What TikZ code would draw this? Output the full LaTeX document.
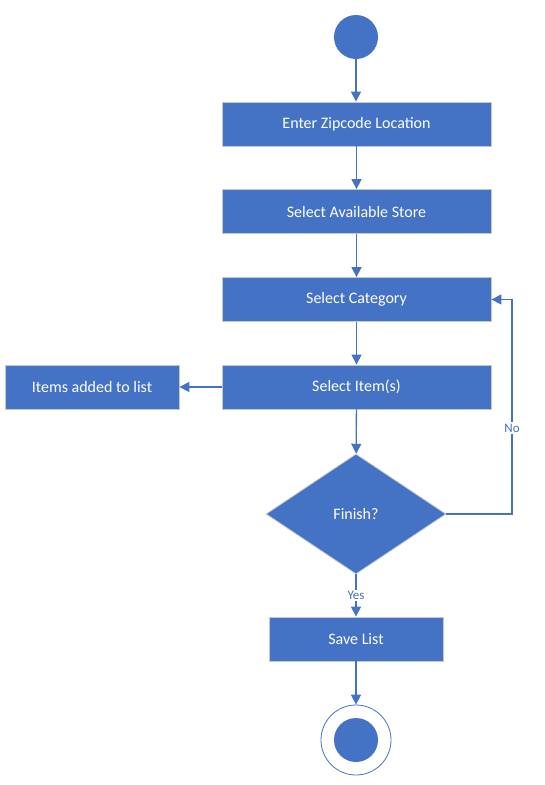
\documentclass[tikz,border=0pt]{standalone}
\usepackage{fontspec}
\setmainfont{Carlito}
\usetikzlibrary{shapes.geometric,arrows.meta,positioning}
\definecolor{flowblue}{HTML}{4472C4}
\definecolor{edgegrey}{HTML}{C3C9D4}

\begin{document}
\begin{tikzpicture}[x=1pt,y=-1pt,
  box/.style={rectangle,draw=edgegrey,fill=flowblue,text=white,line width=0.8pt,
    minimum height=44pt,inner sep=0pt,font=\fontsize{16}{19}\selectfont},
  decision/.style={diamond,draw=edgegrey,fill=flowblue,text=white,line width=0.8pt,
    minimum width=180pt,minimum height=120pt,inner sep=0pt,font=\fontsize{16}{19}\selectfont},
  startnode/.style={circle,fill=flowblue,minimum size=44pt,inner sep=0pt},
  endnode/.style={circle,draw=flowblue,fill=white,line width=0.8pt,minimum size=70pt,inner sep=0pt},
  flow/.style={draw=flowblue,line width=1.3pt,-{Triangle[length=10pt,width=10pt]}},
  lbl/.style={fill=white,text=flowblue,inner sep=1.5pt,font=\fontsize{13}{15}\selectfont}]
\useasboundingbox (0,0) rectangle (544,785);
\node[startnode] at (356,37) (start) {};
\node[box,minimum width=269pt] at (356.5,124) (zipcode) {Enter Zipcode Location};
\node[box,minimum width=269pt] at (356.5,211.5) (store) {Select Available Store};
\node[box,minimum width=269pt] at (356.5,299.5) (category) {Select Category};
\node[box,minimum width=269pt] at (356.5,387) (item) {Select Item(s)};
\node[box,minimum width=174pt] at (92,387) (added) {Items added to list};
\node[decision] at (356,514) (finish) {Finish?};
\node[box,minimum width=174pt] at (356,639) (save) {Save List};
\node[endnode] at (356,740) (stop) {};
\node[startnode] at (356,740) (stopdot) {};
\coordinate (loop) at (512,514);
\draw[flow] (start) -- (start |- zipcode.north);
\draw[flow] (zipcode) -- (store);
\draw[flow] (store) -- (category);
\draw[flow] (category) -- (item);
\draw[flow] (item) -- (added);
\draw[flow] (item) -- (finish);
\draw[flow] (finish) -- node[lbl] {Yes} (save);
\draw[flow] (save) -- (stop);
\draw[flow] (finish.east) -- (loop) |- node[lbl,pos=0.2] {No} (category.east);
\end{tikzpicture}
\end{document}
